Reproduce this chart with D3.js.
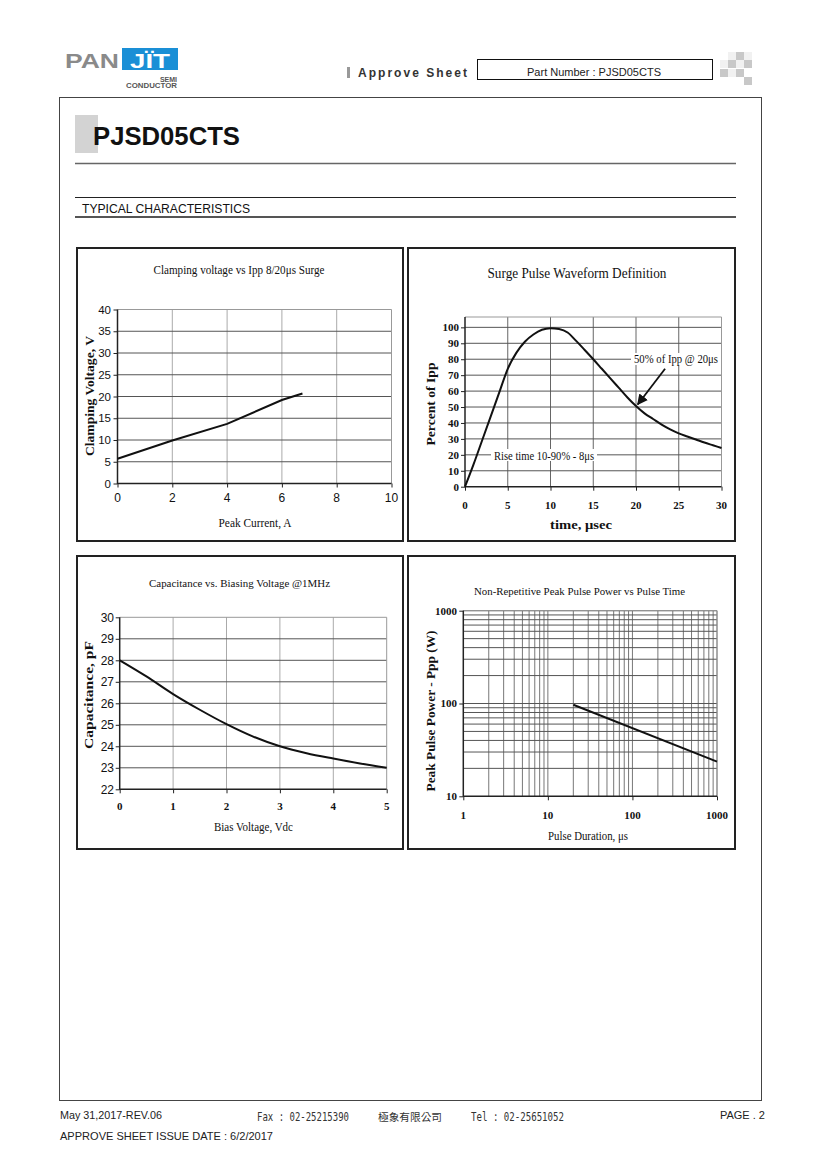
<!DOCTYPE html>
<html><head><meta charset="utf-8">
<script src="https://cdn.jsdelivr.net/npm/d3@7"></script>
<style>body{margin:0;background:#fff} svg{display:block}</style>
</head><body>
<script>
const SERIF = "'Liberation Serif','Times New Roman',serif";
const SANS = "'Liberation Sans',Arial,sans-serif";
const MONO = "'DejaVu Sans Mono',monospace";

// ---- Chart 1: Clamping voltage vs Ipp
const clampCurrent = [0, 2, 4, 6, 6.75];
const clampVoltage = [5.7, 9.9, 13.7, 19.2, 20.7];
const clampXTicks = [0, 2, 4, 6, 8, 10];
const clampYTicks = [0, 5, 10, 15, 20, 25, 30, 35, 40];

// ---- Chart 2: Surge pulse waveform
const pulseTime = [0,1,2,3,4,5,6,7,8,9,10,11,12,13,14,15,16,17,18,19,20,21,22,23,24,25,26,27,28,29,30];
const pulsePercent = [0,14,29,44,59,74,84,91,95.5,98.5,99.5,99,96.8,91.5,85.8,80,74,68,62,56,50.6,46,42.5,39,36,33.5,31.5,29.6,27.7,26,24.3];
const pulseXTicks = [0, 5, 10, 15, 20, 25, 30];
const pulseYTicks = [0,10,20,30,40,50,60,70,80,90,100];
const pulseNote50 = "50% of Ipp @ 20μs";
const pulseNoteRise = "Rise time 10-90% - 8μs";
const arrowFrom = [23.4, 74];
const arrowTo = [20.2, 51.6];

// ---- Chart 3: Capacitance vs bias
const biasVoltage = [0, 0.5, 1, 1.5, 2, 2.5, 3, 3.5, 4, 4.5, 5];
const capacitance = [28, 27.25, 26.43, 25.7, 25.03, 24.45, 24.0, 23.68, 23.43, 23.2, 23.0];
const biasXTicks = [0, 1, 2, 3, 4, 5];
const capYTicks = [22, 23, 24, 25, 26, 27, 28, 29, 30];

// ---- Chart 4: Peak pulse power vs pulse time
const pulseDuration = [20, 1000];
const peakPower = [97, 23.6];
const durXTicks = [1, 10, 100, 1000];
const powerYTicks = [10, 100, 1000];

const svg = d3.select("body").append("svg").attr("width", 820).attr("height", 1160);
svg.append("defs").append("marker").attr("id", "ah").attr("viewBox", "0 0 10 10").attr("refX", 9).attr("refY", 5)
  .attr("markerWidth", 6).attr("markerHeight", 6).attr("orient", "auto")
  .append("path").attr("d", "M0,0 L10,5 L0,10 z").attr("fill", "#111");

// ================= Page header =================
const hdr = svg.append("g");
hdr.append("text").attr("x", 65).attr("y", 68).attr("font-family", SANS).attr("font-weight", 900)
  .attr("font-size", 20).attr("fill", "#8a8a8a").attr("textLength", 54).attr("lengthAdjust", "spacingAndGlyphs").text("PAN");
hdr.append("rect").attr("x", 122).attr("y", 48).attr("width", 56).attr("height", 22).attr("fill", "#1a8fd6");
hdr.append("text").attr("x", 150).attr("y", 68).attr("text-anchor", "middle").attr("font-family", SANS).attr("font-weight", 900)
  .attr("font-size", 20).attr("fill", "#fff").attr("textLength", 40).attr("lengthAdjust", "spacingAndGlyphs").text("JÏT");
hdr.append("text").attr("x", 177).attr("y", 82).attr("text-anchor", "end").attr("font-family", SANS).attr("font-weight", 700)
  .attr("font-size", 7).attr("fill", "#555").text("SEMI");
hdr.append("text").attr("x", 177).attr("y", 88).attr("text-anchor", "end").attr("font-family", SANS).attr("font-weight", 700)
  .attr("font-size", 7).attr("fill", "#555").attr("textLength", 51).attr("lengthAdjust", "spacingAndGlyphs").text("CONDUCTOR");

hdr.append("rect").attr("x", 347).attr("y", 67).attr("width", 3).attr("height", 11).attr("fill", "#999");
hdr.append("text").attr("x", 358).attr("y", 77).attr("font-family", SANS).attr("font-weight", 700)
  .attr("font-size", 12).attr("fill", "#333").attr("textLength", 109).attr("lengthAdjust", "spacing").text("Approve Sheet");
hdr.append("rect").attr("x", 477.5).attr("y", 59.5).attr("width", 235).attr("height", 20).attr("fill", "none").attr("stroke", "#111").attr("stroke-width", 1);
hdr.append("text").attr("x", 594).attr("y", 76).attr("text-anchor", "middle").attr("font-family", SANS)
  .attr("font-size", 11).attr("fill", "#222").attr("textLength", 134).attr("lengthAdjust", "spacingAndGlyphs").text("Part Number : PJSD05CTS");
[[736,52],[728,60],[744,60],[720,69],[736,69],[744,77]].forEach(([x,y]) =>
  hdr.append("rect").attr("x", x).attr("y", y).attr("width", 8).attr("height", 8).attr("fill", "#c8c8c8"));
[[728,52],[744,52],[720,60],[736,60],[728,69]].forEach(([x,y]) =>
  hdr.append("rect").attr("x", x).attr("y", y).attr("width", 8).attr("height", 8).attr("fill", "#f1f1f1"));

// page frame
svg.append("rect").attr("x", 59.5).attr("y", 97.5).attr("width", 702).attr("height", 1003).attr("fill", "none").attr("stroke", "#444").attr("stroke-width", 1);

// title
svg.append("rect").attr("x", 75).attr("y", 115).attr("width", 23).attr("height", 38).attr("fill", "#d3d3d3");
svg.append("text").attr("x", 93).attr("y", 145).attr("font-family", SANS).attr("font-weight", 700)
  .attr("font-size", 25).attr("fill", "#111").attr("textLength", 147).attr("lengthAdjust", "spacingAndGlyphs").text("PJSD05CTS");
svg.append("line").attr("x1", 75).attr("x2", 736).attr("y1", 163.5).attr("y2", 163.5).attr("stroke", "#666").attr("stroke-width", 1.5);
svg.append("line").attr("x1", 75).attr("x2", 736).attr("y1", 197.5).attr("y2", 197.5).attr("stroke", "#222").attr("stroke-width", 1);
svg.append("text").attr("x", 82).attr("y", 213).attr("font-family", SANS).attr("font-size", 12).attr("fill", "#111")
  .attr("textLength", 168).attr("lengthAdjust", "spacingAndGlyphs").text("TYPICAL  CHARACTERISTICS");
svg.append("line").attr("x1", 75).attr("x2", 736).attr("y1", 217).attr("y2", 217).attr("stroke", "#555").attr("stroke-width", 2);

// ================= Helpers =================
function panel(x, y, w, h) {
  svg.append("rect").attr("x", x).attr("y", y).attr("width", w).attr("height", h)
    .attr("fill", "#fff").attr("stroke", "#222").attr("stroke-width", 2);
}
function label(g, opts) {
  const t = g.append("text").attr("x", opts.x).attr("y", opts.y)
    .attr("font-family", opts.family || SERIF).attr("font-size", opts.size || 11)
    .attr("font-weight", opts.weight || 400).attr("fill", "#111")
    .attr("text-anchor", opts.anchor || "middle").text(opts.text);
  if (opts.len) t.attr("textLength", opts.len).attr("lengthAdjust", "spacingAndGlyphs");
  if (opts.rotate) t.attr("transform", `rotate(-90 ${opts.x} ${opts.y})`);
  return t;
}
function grid(g, xs, ys, xVals, yVals, colX, colY) {
  g.append("g").selectAll("line").data(xVals).join("line")
    .attr("x1", d => xs(d)).attr("x2", d => xs(d)).attr("y1", ys.range()[0]).attr("y2", ys.range()[1])
    .attr("stroke", colX).attr("stroke-width", 1);
  g.append("g").selectAll("line").data(yVals).join("line")
    .attr("y1", d => ys(d)).attr("y2", d => ys(d)).attr("x1", xs.range()[0]).attr("x2", xs.range()[1])
    .attr("stroke", colY).attr("stroke-width", 1);
}
function frame(g, xs, ys) {
  const [x0, x1] = xs.range(), [y0, y1] = ys.range();
  g.append("line").attr("x1", x0).attr("x2", x1).attr("y1", y1).attr("y2", y1).attr("stroke", "#999");
  g.append("line").attr("x1", x1).attr("x2", x1).attr("y1", y0).attr("y2", y1).attr("stroke", "#999");
  g.append("line").attr("x1", x0).attr("x2", x0).attr("y1", y0 + 0.5).attr("y2", y1).attr("stroke", "#222").attr("stroke-width", 1.5);
  g.append("line").attr("x1", x0).attr("x2", x1).attr("y1", y0).attr("y2", y0).attr("stroke", "#222").attr("stroke-width", 1.5);
}
function ticks(g, xs, ys, xVals, yVals, xFont, yFont, xFmt, yFmt, xLabelY, yLabelX) {
  g.append("g").attr("transform", `translate(${xs.range()[0]},0)`)
    .call(d3.axisLeft(ys).tickValues(yVals).tickSize(4).tickFormat(() => ""))
    .call(s => { s.select(".domain").remove(); s.selectAll("line").attr("stroke", "#222"); });
  g.append("g").attr("transform", `translate(0,${ys.range()[0]})`)
    .call(d3.axisBottom(xs).tickValues(xVals).tickSize(4).tickFormat(() => ""))
    .call(s => { s.select(".domain").remove(); s.selectAll("line").attr("stroke", "#222"); });
  g.append("g").selectAll("text").data(yVals).join("text")
    .attr("x", yLabelX).attr("y", d => ys(d)).attr("dy", "0.35em").attr("text-anchor", "end")
    .attr("font-family", yFont.family).attr("font-size", yFont.size).attr("font-weight", yFont.weight).attr("fill", "#111")
    .text(yFmt);
  g.append("g").selectAll("text").data(xVals).join("text")
    .attr("x", d => xs(d)).attr("y", xLabelY).attr("text-anchor", "middle")
    .attr("font-family", xFont.family).attr("font-size", xFont.size).attr("font-weight", xFont.weight).attr("fill", "#111")
    .text(xFmt);
}
const sansLbl = { family: SANS, size: 12, weight: 400 };
const sansLblY = { family: SANS, size: 11.5, weight: 400 };
const serifBold = { family: SERIF, size: 11, weight: 700 };

// ================= Chart 1 =================
panel(77, 248, 326, 293);
{
  const g = svg.append("g");
  const xs = d3.scaleLinear().domain([0, 10]).range([117.5, 391.5]);
  const ys = d3.scaleLinear().domain([0, 40]).range([483.5, 309.5]);
  grid(g, xs, ys, clampXTicks.slice(1, -1), clampYTicks.slice(1, -1), "#aaa", "#555");
  frame(g, xs, ys);
  ticks(g, xs, ys, clampXTicks, clampYTicks, sansLbl, sansLblY, d => d, d => d, 502, 111);
  const line = d3.line().x((d, i) => xs(clampCurrent[i])).y(d => ys(d));
  g.append("path").attr("d", line(clampVoltage)).attr("fill", "none").attr("stroke", "#111").attr("stroke-width", 2);
  label(g, { x: 239, y: 274, text: "Clamping voltage vs Ipp 8/20μs Surge", size: 11.5, len: 171 });
  label(g, { x: 255, y: 527, text: "Peak Current, A", size: 11.5, len: 73 });
  label(g, { x: 94, y: 396, text: "Clamping Voltage, V", size: 11.5, weight: 700, len: 120, rotate: true });
}

// ================= Chart 2 =================
panel(408, 248, 327, 293);
{
  const g = svg.append("g");
  const xs = d3.scaleLinear().domain([0, 30]).range([465, 721.5]);
  const ys = d3.scaleLinear().domain([0, 106.5]).range([486.7, 317]);
  grid(g, xs, ys, pulseXTicks.slice(1, -1), pulseYTicks.slice(1), "#666", "#555");
  frame(g, xs, ys);
  ticks(g, xs, ys, pulseXTicks, pulseYTicks, serifBold, serifBold, d => d, d => d, 509, 459);
  [[676, 359, 90], [544, 455, 106]].forEach(([cx, cy, w]) =>
    g.append("rect").attr("x", cx - w / 2).attr("y", cy - 6).attr("width", w).attr("height", 12).attr("fill", "#fff"));
  label(g, { x: 676, y: 363, text: pulseNote50, size: 11.5, len: 84 });
  label(g, { x: 544, y: 459.5, text: pulseNoteRise, size: 11.5, len: 100 });
  const line = d3.line().x((d, i) => xs(pulseTime[i])).y(d => ys(d)).curve(d3.curveMonotoneX);
  g.append("path").attr("d", line(pulsePercent)).attr("fill", "none").attr("stroke", "#111").attr("stroke-width", 2);
  g.append("line").attr("x1", xs(arrowFrom[0])).attr("y1", ys(arrowFrom[1]))
    .attr("x2", xs(arrowTo[0])).attr("y2", ys(arrowTo[1]))
    .attr("stroke", "#111").attr("stroke-width", 1.8).attr("marker-end", "url(#ah)");
  label(g, { x: 577, y: 278, text: "Surge Pulse Waveform Definition", size: 14, len: 179 });
  label(g, { x: 581, y: 529, text: "time, μsec", size: 11.5, weight: 700, len: 62 });
  label(g, { x: 435, y: 404, text: "Percent of Ipp", size: 11.5, weight: 700, len: 83, rotate: true });
}

// ================= Chart 3 =================
panel(77, 556, 326, 293);
{
  const g = svg.append("g");
  const xs = d3.scaleLinear().domain([0, 5]).range([119.7, 386.7]);
  const ys = d3.scaleLinear().domain([22, 30]).range([789.3, 617.3]);
  grid(g, xs, ys, biasXTicks.slice(1, -1), capYTicks.slice(1, -1), "#aaa", "#555");
  frame(g, xs, ys);
  ticks(g, xs, ys, biasXTicks, capYTicks, serifBold, sansLbl, d => d, d => d, 810, 114);
  const line = d3.line().x((d, i) => xs(biasVoltage[i])).y(d => ys(d)).curve(d3.curveMonotoneX);
  g.append("path").attr("d", line(capacitance)).attr("fill", "none").attr("stroke", "#111").attr("stroke-width", 2);
  label(g, { x: 239.5, y: 587, text: "Capacitance vs. Biasing Voltage @1MHz", size: 11, len: 181 });
  label(g, { x: 253.5, y: 831, text: "Bias Voltage, Vdc", size: 11.5, len: 79 });
  label(g, { x: 92.5, y: 695, text: "Capacitance, pF", size: 11.5, weight: 700, len: 108, rotate: true });
}

// ================= Chart 4 =================
panel(408, 556, 327, 293);
{
  const g = svg.append("g");
  const xs = d3.scaleLog().domain([1, 1000]).range([463.3, 717]);
  const ys = d3.scaleLog().domain([10, 1000]).range([796.3, 610.7]);
  const xMinor = xs.ticks().filter(d => d > 1);
  const yMinor = ys.ticks().filter(d => d > 10);
  grid(g, xs, ys, xMinor, yMinor, "#777", "#555");
  frame(g, xs, ys);
  ticks(g, xs, ys, durXTicks, powerYTicks, serifBold, serifBold, d => d, d => d, 819, 457);
  const line = d3.line().x((d, i) => xs(pulseDuration[i])).y(d => ys(d));
  g.append("path").attr("d", line(peakPower)).attr("fill", "none").attr("stroke", "#111").attr("stroke-width", 2);
  label(g, { x: 579.5, y: 595, text: "Non-Repetitive Peak Pulse Power vs Pulse Time", size: 11, len: 211 });
  label(g, { x: 588, y: 840, text: "Pulse Duration, μs", size: 12, len: 80 });
  label(g, { x: 435, y: 711, text: "Peak Pulse Power - Ppp (W)", size: 11.5, weight: 700, len: 161, rotate: true });
}

// ================= Footer =================
const ft = svg.append("g");
ft.append("text").attr("x", 60).attr("y", 1119).attr("font-family", SANS).attr("font-size", 11).attr("fill", "#222")
  .attr("textLength", 102).attr("lengthAdjust", "spacingAndGlyphs").text("May 31,2017-REV.06");
ft.append("text").attr("x", 257).attr("y", 1121).attr("font-family", MONO).attr("font-size", 11.5).attr("fill", "#333")
  .attr("textLength", 92).attr("lengthAdjust", "spacingAndGlyphs").text("Fax : 02-25215390");
ft.append("text").attr("x", 378).attr("y", 1121).attr("font-family", "'Noto Sans CJK TC',sans-serif").attr("font-size", 10.5).attr("fill", "#333")
  .attr("textLength", 64).attr("lengthAdjust", "spacingAndGlyphs").text("極象有限公司");
ft.append("text").attr("x", 471).attr("y", 1121).attr("font-family", MONO).attr("font-size", 11.5).attr("fill", "#333")
  .attr("textLength", 93).attr("lengthAdjust", "spacingAndGlyphs").text("Tel : 02-25651052");
ft.append("text").attr("x", 765).attr("y", 1119).attr("text-anchor", "end").attr("font-family", SANS).attr("font-size", 11).attr("fill", "#222")
  .text("PAGE . 2");
ft.append("text").attr("x", 60).attr("y", 1140).attr("font-family", SANS).attr("font-size", 11).attr("fill", "#222")
  .attr("textLength", 213).attr("lengthAdjust", "spacingAndGlyphs").text("APPROVE SHEET ISSUE DATE : 6/2/2017");
</script>
</body></html>
